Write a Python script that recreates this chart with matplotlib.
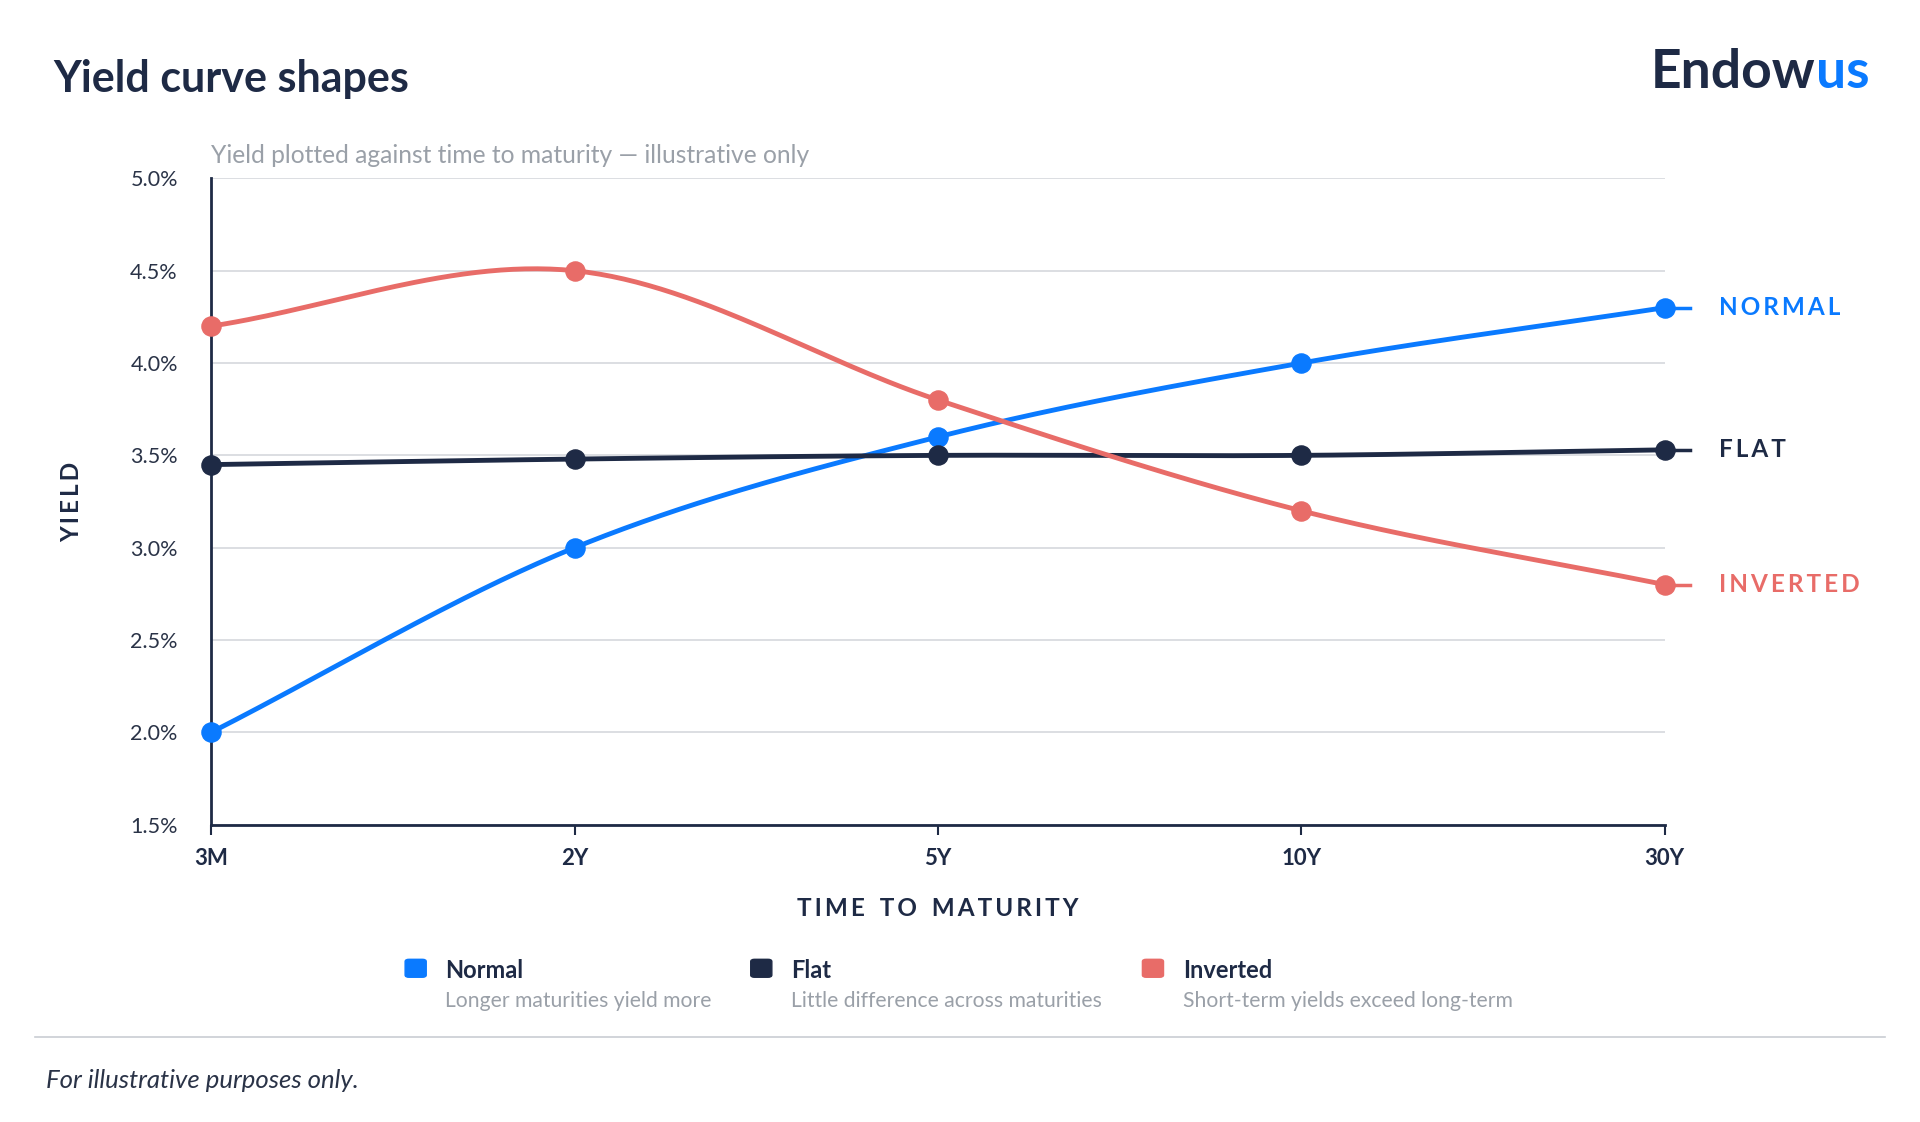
import numpy as np
import matplotlib
matplotlib.use("Agg")
import matplotlib.pyplot as plt

plt.rcParams['font.family'] = ['Lato', 'DejaVu Sans']

maturities = ['3M', '2Y', '5Y', '10Y', '30Y']
normal = [2.0, 3.0, 3.6, 4.0, 4.3]
flat = [3.45, 3.48, 3.50, 3.50, 3.53]
inverted = [4.2, 4.5, 3.8, 3.2, 2.8]

series_names = ['Normal', 'Flat', 'Inverted']
series_notes = ['Longer maturities yield more', 'Little difference across maturities',
                'Short-term yields exceed long-term']
end_labels = ['NORMAL', 'FLAT', 'INVERTED']

BLUE = '#0A7AFF'
NAVY = '#1E2A45'
RED = '#E86C68'
GRID = '#D5D8DD'
GREY = '#9AA0A8'
colors = [BLUE, NAVY, RED]


def spaced(s):
    # letter spacing with thin spaces
    return '\u2009'.join(s).replace('\u2009 \u2009', '\u2009\u2009 \u2009')


def catmull_rom(ys, n=60):
    # smooth curve through points with equally spaced x
    ys = np.asarray(ys, float)
    p = np.concatenate([[2 * ys[0] - ys[1]], ys, [2 * ys[-1] - ys[-2]]])
    xs_out, ys_out = [], []
    for i in range(len(ys) - 1):
        t = np.linspace(0, 1, n)
        p0, p1, p2, p3 = p[i], p[i + 1], p[i + 2], p[i + 3]
        y = 0.5 * ((2 * p1) + (-p0 + p2) * t + (2 * p0 - 5 * p1 + 4 * p2 - p3) * t ** 2
                   + (-p0 + 3 * p1 - 3 * p2 + p3) * t ** 3)
        xs_out.append(i + t)
        ys_out.append(y)
    return np.concatenate(xs_out), np.concatenate(ys_out)


fig = plt.figure(figsize=(19.2, 11.22), dpi=100)
ax = fig.add_axes([0.110, 0.265, 0.757, 0.576])

x = np.arange(len(maturities))
for vals, c, lab in zip([normal, flat, inverted], colors, end_labels):
    cx, cy = catmull_rom(vals)
    ax.plot(cx, cy, color=c, lw=3.5, solid_capstyle='round', zorder=3)
    ax.plot([x[-1], x[-1] + 0.07], [vals[-1], vals[-1]], color=c, lw=2.5, clip_on=False)
    ax.scatter(x, vals, s=190, color=c, zorder=4, clip_on=False)
    ax.text(x[-1] + 0.15, vals[-1], spaced(lab), color=c, fontsize=17.5, fontweight='bold',
            va='center', ha='left', clip_on=False)

ax.set_xlim(0, 4)
ax.set_ylim(1.5, 5.0)
ax.set_yticks(np.arange(1.5, 5.01, 0.5))
ax.set_yticklabels([f'{v:.1f}%' for v in np.arange(1.5, 5.01, 0.5)], fontsize=15.5, color='#2A3347')
ax.set_xticks(x)
ax.set_xticklabels(maturities, fontsize=16, fontweight='bold', color='#1E2A45')
ax.tick_params(axis='y', length=0, pad=24)
ax.tick_params(axis='x', length=7, width=1.5, color=NAVY, pad=10)
ax.grid(axis='y', color=GRID, lw=1.2)
ax.set_axisbelow(True)
for s in ['top', 'right']:
    ax.spines[s].set_visible(False)
for s in ['left', 'bottom']:
    ax.spines[s].set_color(NAVY)
    ax.spines[s].set_linewidth(2)
ax.set_xlabel(spaced('TIME TO MATURITY'), fontsize=17.5, fontweight='bold', color=NAVY, labelpad=20)
ax.set_ylabel(spaced('YIELD'), fontsize=17.5, fontweight='bold', color=NAVY, labelpad=34)
ax.text(0, 1.018, 'Yield plotted against time to maturity — illustrative only',
        transform=ax.transAxes, fontsize=17.7, color=GREY, va='bottom')

fig.text(0.028, 0.93, 'Yield curve shapes', fontsize=31, fontweight='bold', color='#1E2A45', va='center')
t1 = fig.text(0.860, 0.935, 'Endow', fontsize=38.5, fontweight='bold', color=NAVY, va='center')
fig.canvas.draw()
bb = t1.get_window_extent().transformed(fig.transFigure.inverted())
fig.text(bb.x1, 0.935, 'us', fontsize=38.5, fontweight='bold', color=BLUE, va='center')

# legend
leg_x = [0.211, 0.391, 0.595]
for lx, c, name, note in zip(leg_x, colors, series_names, series_notes):
    fig.patches.append(matplotlib.patches.FancyBboxPatch(
        (lx, 0.129), 0.011, 0.016, boxstyle='round,pad=0,rounding_size=0.002',
        transform=fig.transFigure, color=c))
    fig.text(lx + 0.021, 0.135, name, fontsize=17, fontweight='bold', color=NAVY, va='center')
    fig.text(lx + 0.021, 0.108, note, fontsize=15.2, color=GREY, va='center')

fig.add_artist(matplotlib.lines.Line2D([0.018, 0.982], [0.076, 0.076], color='#C9CDD3', lw=1.2))
fig.text(0.024, 0.037, 'For illustrative purposes only.', fontsize=18.5, style='italic', color='#2A3347', va='center')

fig.savefig('out.png', dpi=100, facecolor='white')
